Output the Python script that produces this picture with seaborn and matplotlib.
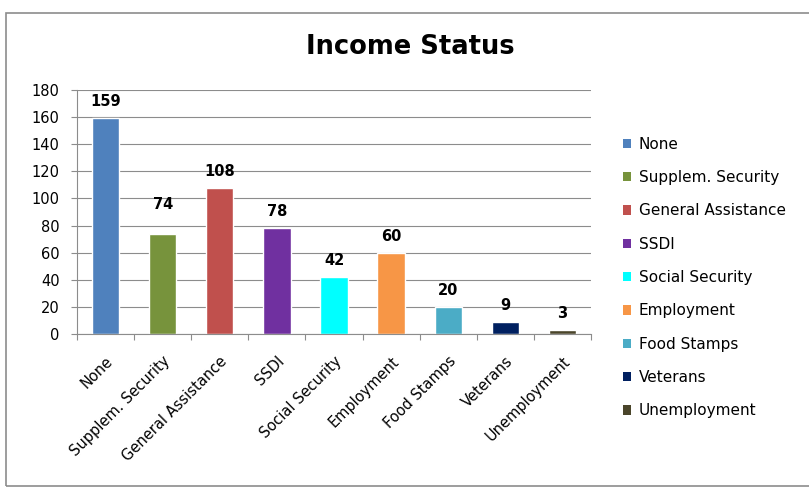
import matplotlib
matplotlib.use("Agg")
import matplotlib.pyplot as plt
import seaborn as sns
import pandas as pd
from matplotlib.patches import Patch, Rectangle

categories = ["None", "Supplem. Security", "General Assistance", "SSDI",
              "Social Security", "Employment", "Food Stamps", "Veterans",
              "Unemployment"]
values = [159, 74, 108, 78, 42, 60, 20, 9, 3]
colors = ["#4F81BD", "#77933C", "#C0504D", "#7030A0", "#00FFFF",
          "#F79646", "#4BACC6", "#002060", "#4A452A"]
label_pads = [6.5, 15.5, 6.5, 6.5, 6.5, 6.5, 6.5, 6.5, 6.5]
yticks = [0, 20, 40, 60, 80, 100, 120, 140, 160, 180]
title = "Income Status"

sns.set_style("white")
plt.rcParams["font.family"] = ["DejaVu Sans"]
plt.rcParams["text.color"] = "black"
plt.rcParams["xtick.color"] = "black"
plt.rcParams["ytick.color"] = "black"

df = pd.DataFrame({"cat": categories, "val": values})

fig = plt.figure(figsize=(8.09, 4.87), dpi=100)
ax = fig.add_axes([77/809, 1-334/487, (591-77)/809, (334-90)/487])

sns.barplot(data=df, x="cat", y="val", hue="cat", palette=colors,
            width=0.48, dodge=False, legend=False, ax=ax, saturation=1)

for cont, pad in zip(ax.containers, label_pads):
    ax.bar_label(cont, padding=pad, fontsize=10.5, fontweight="bold",
                 color="black")

ax.set_ylim(0, 180)
ax.set_yticks(yticks)
ax.set_xlim(-0.5, len(categories) - 0.5)
ax.yaxis.grid(True, color="#8C8C8C", linewidth=0.8)
ax.set_axisbelow(True)
ax.set_xlabel("")
ax.set_ylabel("")
for s in ["top", "right"]:
    ax.spines[s].set_visible(False)
for s in ["left", "bottom"]:
    ax.spines[s].set_color("#8C8C8C")
    ax.spines[s].set_linewidth(0.8)

ax.tick_params(axis="y", which="major", length=4.5, width=0.8, color="#8C8C8C",
               labelcolor="black", pad=8, labelsize=10.5, left=True)
ax.set_xticks(range(len(categories)))
ax.set_xticklabels(categories, rotation=45, ha="right", rotation_mode="anchor",
                   fontsize=10.5, color="black")
ax.tick_params(axis="x", which="major", length=0, pad=14)
ax.set_xticks([i - 0.5 for i in range(len(categories) + 1)], minor=True)
ax.tick_params(axis="x", which="minor", length=4.5, width=0.8, color="#8C8C8C",
               bottom=True)

fig.text(410/809, 1-47/487, title, ha="center", va="center",
         fontsize=18.5, fontweight="bold", color="black")

handles = [Patch(facecolor=c, edgecolor="none") for c in colors]
fig.legend(handles, categories, loc="center left",
           bbox_to_anchor=(615/809, 1-277.5/487), frameon=False,
           fontsize=11, handlelength=0.55, handleheight=0.55,
           handletextpad=0.5, labelspacing=1.2, borderpad=0,
           labelcolor="black")

fig.add_artist(Rectangle((6/809, 1/487), 1.2, (486-13)/487,
                         transform=fig.transFigure, fill=False,
                         edgecolor="#8C8C8C", linewidth=1.2))

fig.savefig("out.png", dpi=100)
